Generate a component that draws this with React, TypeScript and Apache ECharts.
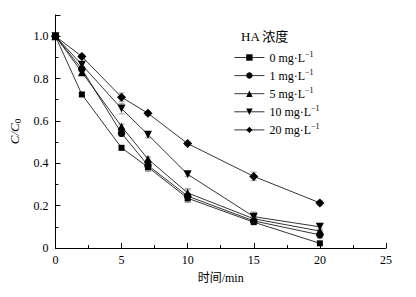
import React, { useEffect, useRef } from "react";
import * as echarts from "echarts";

const times = [0, 2, 5, 7, 10, 15, 20];
const seriesNames = ["0", "1", "5", "10", "20"];
const s0 = [1.0, 0.725, 0.473, 0.382, 0.235, 0.122, 0.022];
const s1 = [1.0, 0.845, 0.542, 0.39, 0.245, 0.128, 0.062];
const s5 = [1.0, 0.83, 0.574, 0.42, 0.26, 0.138, 0.08];
const s10 = [1.0, 0.865, 0.658, 0.535, 0.348, 0.148, 0.1];
const s20 = [1.0, 0.904, 0.712, 0.636, 0.493, 0.338, 0.213];
const e0 = [0, 0, 0, 0.02, 0.015, 0, 0];
const e1 = [0, 0.01, 0.015, 0.025, 0.03, 0.01, 0.015];
const e5 = [0, 0.015, 0.01, 0.01, 0.02, 0.01, 0.01];
const e10 = [0, 0.015, 0.025, 0.015, 0.01, 0.022, 0.016];
const e20 = [0, 0.01, 0.02, 0.01, 0.008, 0.02, 0.01];
const xTicks = [0, 5, 10, 15, 20, 25];
const yTicks = [0, 0.2, 0.4, 0.6, 0.8, 1.0];

const values = [s0, s1, s5, s10, s20];
const errors = [e0, e1, e5, e10, e20];
const symbols = ["rect", "circle", "triangle", "path://M0,0 L10,0 L5,9 Z", "diamond"];
const symbolSizes = [6, 7.5, 8, 8, 9];

const serif = "Liberation Serif, serif";
const serifCJK = "Liberation Serif, Noto Sans CJK SC, serif";

export default function App() {
  const ref = useRef<HTMLDivElement>(null);
  useEffect(() => {
    if (!ref.current) return;
    const chart = echarts.init(ref.current, undefined, { renderer: "svg" });
    const lineSeries = values.map((vals, i) => ({
      name: seriesNames[i],
      type: "line",
      data: times.map((t, j) => [t, vals[j]]),
      symbol: symbols[i],
      symbolSize: symbolSizes[i],
      showSymbol: true,
      lineStyle: { color: "#000", width: 0.8 },
      itemStyle: { color: "#000" },
      z: 3,
    }));
    const errSeries = values.map((vals, i) => ({
      type: "custom",
      silent: true,
      z: 2,
      data: times
        .map((t, j) => [t, vals[j], errors[i][j]])
        .filter((d) => d[2] > 0),
      encode: { x: 0, y: 1 },
      renderItem: (params: any, api: any) => {
        const x = api.value(0);
        const y = api.value(1);
        const e = api.value(2);
        const top = api.coord([x, y + e]);
        const bot = api.coord([x, y - e]);
        const st = { stroke: "#888", lineWidth: 0.8 };
        return {
          type: "group",
          children: [
            { type: "line", shape: { x1: top[0], y1: top[1], x2: bot[0], y2: bot[1] }, style: st },
            { type: "line", shape: { x1: top[0] - 3, y1: top[1], x2: top[0] + 3, y2: top[1] }, style: st },
            { type: "line", shape: { x1: bot[0] - 3, y1: bot[1], x2: bot[0] + 3, y2: bot[1] }, style: st },
          ],
        };
      },
    }));
    chart.setOption({
      animation: false,
      backgroundColor: "#fff",
      title: {
        text: "HA 浓度",
        left: 236,
        top: 25,
        textStyle: { fontFamily: serifCJK, fontSize: 13, fontWeight: "normal", color: "#000" },
      },
      legend: {
        orient: "vertical",
        left: 229,
        top: 45,
        itemWidth: 30,
        itemHeight: 8,
        itemGap: 4.6,
        data: seriesNames,
        lineStyle: { width: 0.8, color: "#000" },
        formatter: (n: string) => `{a|${n} mg·L}{s|−1}`,
        textStyle: {
          color: "#000",
          fontFamily: serif,
          fontSize: 12,
          rich: {
            a: { fontFamily: serif, fontSize: 12, color: "#000" },
            s: { fontFamily: serif, fontSize: 8, color: "#000", padding: [0, 0, 7, 0] },
          },
        },
      },
      grid: { left: 52, right: 30, top: 15, bottom: 49 },
      xAxis: {
        type: "value",
        min: xTicks[0],
        max: xTicks[xTicks.length - 1],
        interval: 5,
        name: "时间/min",
        nameLocation: "middle",
        nameGap: 24,
        nameTextStyle: { fontFamily: serifCJK, fontSize: 12, color: "#000" },
        axisLine: { lineStyle: { color: "#000", width: 1 } },
        axisTick: { inside: true, length: 5, lineStyle: { color: "#000" } },
        minorTick: { show: true, splitNumber: 2, length: 3, lineStyle: { color: "#000" } },
        splitLine: { show: false },
        axisLabel: { fontFamily: serif, fontSize: 12, color: "#000", margin: 6 },
      },
      yAxis: {
        type: "value",
        min: yTicks[0],
        max: 1.1,
        interval: 0.2,
        name: "{i|C}{i|/}{i|C}{s|0}",
        nameLocation: "middle",
        nameGap: 28,
        nameRotate: 90,
        nameTextStyle: {
          fontFamily: serif,
          color: "#000",
          rich: {
            i: { fontFamily: serif, fontStyle: "italic", fontSize: 13, color: "#000" },
            s: { fontFamily: serif, fontSize: 9, color: "#000", padding: [7, 0, 0, 0] },
          },
        },
        axisLine: { show: true, lineStyle: { color: "#000", width: 1 } },
        axisTick: { show: true, inside: true, length: 5, lineStyle: { color: "#000" } },
        minorTick: { show: true, splitNumber: 2, length: 3, lineStyle: { color: "#000" } },
        splitLine: { show: false },
        axisLabel: {
          fontFamily: serif,
          fontSize: 12,
          color: "#000",
          margin: 7,
          showMaxLabel: false,
          formatter: (v: number) => (v === 0 ? "0" : v.toFixed(1)),
        },
      },
      series: [...errSeries, ...lineSeries],
    });
    return () => chart.dispose();
  }, []);
  return (
    <div
      ref={ref}
      style={{ position: "fixed", left: 0, top: 0, width: 416, height: 297, background: "#fff" }}
    />
  );
}
